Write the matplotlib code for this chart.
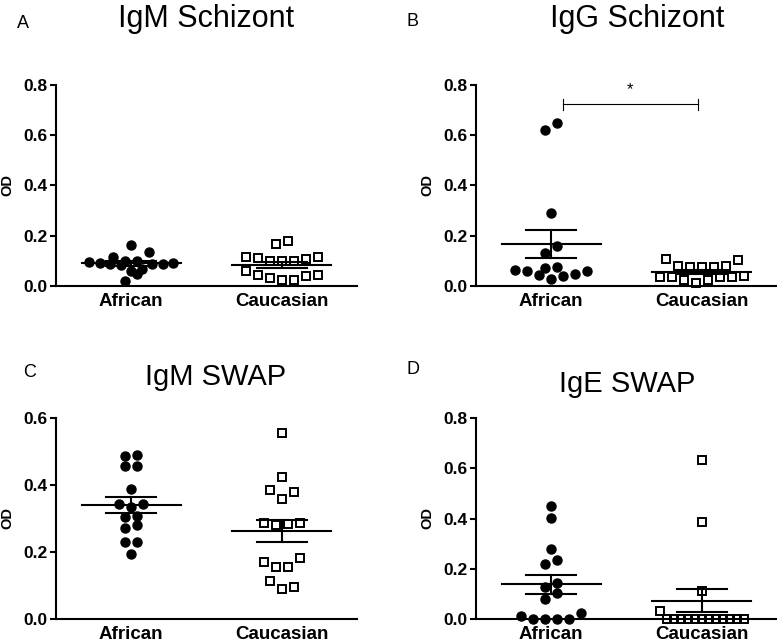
import numpy as np
import matplotlib
matplotlib.use("Agg")
import matplotlib.pyplot as plt

plt.rcParams['font.family'] = ['Liberation Sans', 'DejaVu Sans']

groups = ['African', 'Caucasian']

# OD values
igm_schiz_african = [0.092, 0.136, 0.163, 0.113, 0.099, 0.085, 0.060, 0.020,
                     0.045, 0.065, 0.100, 0.088, 0.090, 0.082, 0.095, 0.087]
igm_schiz_caucasian = [0.165, 0.179, 0.113, 0.105, 0.099, 0.099, 0.099, 0.109,
                       0.116, 0.060, 0.043, 0.029, 0.023, 0.023, 0.039, 0.043]
igg_schiz_african = [0.619, 0.649, 0.288, 0.160, 0.132, 0.073, 0.069, 0.063,
                     0.059, 0.043, 0.027, 0.039, 0.047, 0.059]
igg_schiz_caucasian = [0.105, 0.103, 0.080, 0.073, 0.073, 0.073, 0.080, 0.033,
                       0.033, 0.023, 0.012, 0.023, 0.033, 0.033, 0.040]
igm_swap_african = [0.487, 0.489, 0.457, 0.457, 0.388, 0.343, 0.344, 0.335,
                    0.308, 0.306, 0.281, 0.271, 0.231, 0.229, 0.194]
igm_swap_caucasian = [0.555, 0.426, 0.381, 0.386, 0.360, 0.286, 0.281, 0.284,
                      0.286, 0.181, 0.156, 0.154, 0.171, 0.113, 0.097, 0.090]
ige_swap_african = [0.450, 0.401, 0.278, 0.235, 0.219, 0.142, 0.126, 0.102,
                    0.080, 0.013, 0.0, 0.0, 0.0, 0.0, 0.025]
ige_swap_caucasian = [0.634, 0.388, 0.113, 0.032, 0.0, 0.0, 0.0, 0.0,
                      0.0, 0.0, 0.0, 0.0, 0.0, 0.0, 0.0, 0.0]

titles = ['IgM Schizont', 'IgG Schizont', 'IgM SWAP', 'IgE SWAP']
letters = ['A', 'B', 'C', 'D']
ymax = [0.8, 0.8, 0.6, 0.8]

W, H = 777, 644


def swarm_x(vals, center, h, d=0.08, half_max=0.28):
    # column-scatter layout: group close values into rows, spread rows sideways
    vals = np.asarray(vals)
    order = np.argsort(vals, kind='stable')
    xs = np.zeros(len(vals))
    rows, cur = [], [order[0]]
    for idx in order[1:]:
        if vals[idx] - vals[cur[0]] < h:
            cur.append(idx)
        else:
            rows.append(cur)
            cur = [idx]
    rows.append(cur)
    for row in rows:
        n = len(row)
        step = d if (n - 1) * d / 2 <= half_max else 2 * half_max / (n - 1)
        for k, idx in enumerate(row):
            if n % 2:
                slot = ((k + 1) // 2) * (1 if k % 2 else -1)
            else:
                slot = (k // 2 + 0.5) * (-1 if k % 2 == 0 else 1)
            xs[idx] = center + slot * step
    return xs


def panel(ax, african, caucasian, top, h):
    for i, vals in enumerate([african, caucasian]):
        vals = np.asarray(vals)
        xs = swarm_x(vals, i, h)
        if i == 0:
            ax.plot(xs, vals, 'o', color='black', ms=6.5, clip_on=False, zorder=3)
        else:
            ax.plot(xs, vals, 's', mfc='none', mec='black', mew=1.4, ms=5.3,
                    clip_on=False, zorder=3)
        m = vals.mean()
        sem = vals.std(ddof=1) / np.sqrt(len(vals))
        ax.plot([i - 0.33, i + 0.33], [m, m], color='black', lw=1.5, zorder=4)
        ax.plot([i - 0.165, i + 0.165], [m + sem, m + sem], color='black', lw=1.5, zorder=4)
        ax.plot([i - 0.165, i + 0.165], [m - sem, m - sem], color='black', lw=1.5, zorder=4)
        ax.plot([i, i], [m - sem, m + sem], color='black', lw=1.5, zorder=4)
    ax.set_xlim(-0.5, 1.5)
    ax.set_ylim(0, top)
    ticks = np.arange(0, top + 0.01, 0.2)
    ax.set_yticks(ticks, labels=[f'{t:.1f}' for t in ticks],
                  fontweight='bold', fontsize=12.5)
    ax.set_xticks([0, 1], labels=groups, fontweight='bold', fontsize=13.5)
    ax.tick_params(axis='y', direction='out', length=4.5, width=1.5, pad=1.5)
    ax.tick_params(axis='x', length=0, pad=5)
    for s in ['top', 'right']:
        ax.spines[s].set_visible(False)
    for s in ['left', 'bottom']:
        ax.spines[s].set_linewidth(1.5)


fig = plt.figure(figsize=(7.77, 6.44), dpi=100)

boxes = [(56, 85), (476, 85), (56, 418.3), (476, 418.3)]
data = [(igm_schiz_african, igm_schiz_caucasian, 0.038),
        (igg_schiz_african, igg_schiz_caucasian, 0.038),
        (igm_swap_african, igm_swap_caucasian, 0.0285),
        (ige_swap_african, ige_swap_caucasian, 0.038)]
axes = []
for (x0, y0), (af, ca, h), top in zip(boxes, data, ymax):
    ax = fig.add_axes([x0 / W, 1 - (y0 + 200.7) / H, 301 / W, 200.7 / H])
    panel(ax, af, ca, top, h)
    axes.append(ax)
    fig.text((x0 - 49) / W, 1 - (y0 + 100) / H, 'OD', rotation=90,
             ha='center', va='center', fontweight='bold', fontsize=10.5)

# titles and panel letters
title_pos = [(206.5, 27, 22), (637, 27, 22), (216, 385, 21), (627, 392, 21)]
letter_pos = [(23, 23), (412, 21), (30, 373), (413, 370)]
for t, (tx, ty, fs), lt, (lx, ly) in zip(titles, title_pos, letters, letter_pos):
    fig.text(tx / W, 1 - ty / H, t, ha='center', va='baseline', fontsize=fs)
    fig.text(lx / W, 1 - ly / H, lt, ha='center', va='center', fontsize=13)

# significance bracket in panel B
axb = axes[1]
axb.plot([0.08, 0.974], [0.723, 0.723], color='black', lw=0.8)
axb.plot([0.08, 0.08], [0.70, 0.745], color='black', lw=0.8)
axb.plot([0.974, 0.974], [0.70, 0.745], color='black', lw=0.8)
axb.text(0.52, 0.78, '*', ha='center', va='center', fontsize=12)

fig.savefig('out.png', dpi=100)
